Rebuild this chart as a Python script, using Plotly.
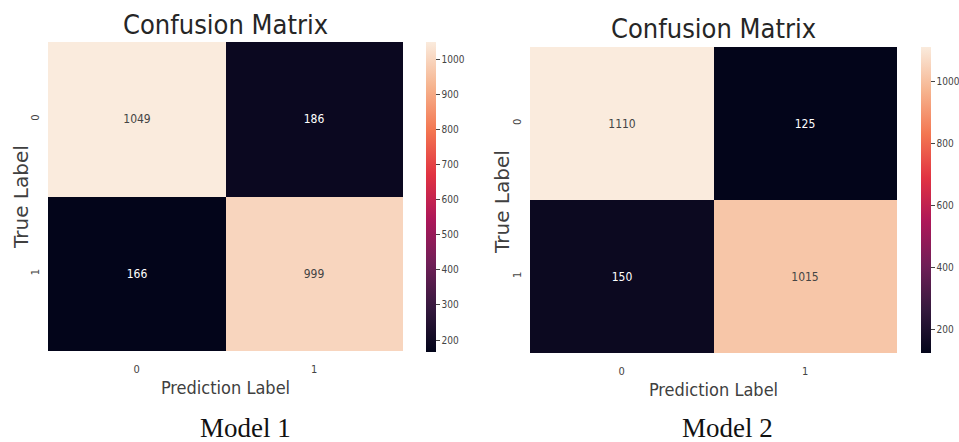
import plotly.graph_objects as go

# ---- data ----
pred_labels = ["0", "1"]
true_labels = ["0", "1"]
model1_cm = [[1049, 186], [166, 999]]
model2_cm = [[1110, 125], [150, 1015]]
model_names = ["Model 1", "Model 2"]
title_text = "Confusion Matrix"
x_title = "Prediction Label"
y_title = "True Label"
cb1_ticks = [200, 300, 400, 500, 600, 700, 800, 900, 1000]
cb2_ticks = [200, 400, 600, 800, 1000]

rocket = [
    [0 / 7, "#03051a"],
    [1 / 7, "#35193e"],
    [2 / 7, "#701f57"],
    [3 / 7, "#ad1759"],
    [4 / 7, "#e13342"],
    [5 / 7, "#f37651"],
    [6 / 7, "#f6b48f"],
    [7 / 7, "#faebdd"],
]

W, H = 959, 442
def px(x):
    return x / W
def py(y):
    return 1 - y / H

cond = "DejaVu Sans Condensed, DejaVu Sans, sans-serif"
tickfont = dict(family=cond, size=11, color="#444444")

def cmin(m):
    return min(min(r) for r in m)
def cmax(m):
    return max(max(r) for r in m)

def cbar(x0, y0, y1, ticks):
    return dict(x=px(x0), xanchor="left", y=py((y0 + y1) / 2), yanchor="middle",
                len=(y1 - y0) / H, lenmode="fraction", thickness=10, outlinewidth=0,
                xpad=0, ypad=0, tickvals=ticks, ticks="outside", ticklen=4,
                tickcolor="#444", tickfont=dict(family=cond, size=10, color="#444444"))

fig = go.Figure()
fig.add_trace(go.Heatmap(
    z=model1_cm, x=pred_labels, y=true_labels, colorscale=rocket,
    zmin=cmin(model1_cm), zmax=cmax(model1_cm),
    texttemplate="%{z}", textfont=dict(family=cond, size=12),
    xaxis="x", yaxis="y", hoverinfo="z",
    colorbar=cbar(426, 42, 352, cb1_ticks),
))
fig.add_trace(go.Heatmap(
    z=model2_cm, x=pred_labels, y=true_labels, colorscale=rocket,
    zmin=cmin(model2_cm), zmax=cmax(model2_cm),
    texttemplate="%{z}", textfont=dict(family=cond, size=12),
    xaxis="x2", yaxis="y2", hoverinfo="z",
    colorbar=cbar(921, 47, 353, cb2_ticks),
))

def xax(dom, anchor):
    return dict(domain=dom, anchor=anchor, showgrid=False, zeroline=False,
                showline=False, ticks="", tickfont=tickfont, ticklabelstandoff=10,
                automargin=False,
                title=dict(text=x_title, standoff=6,
                           font=dict(family=cond, size=18, color="#404040")))

def yax(dom, anchor):
    return dict(domain=dom, anchor=anchor, showgrid=False, zeroline=False,
                showline=False, ticks="", tickfont=tickfont, tickangle=-90,
                autorange="reversed", ticklabelstandoff=6, automargin=False)

def ann(text, x, y, font, angle=0):
    return dict(text=text, x=px(x), y=py(y), xref="paper", yref="paper",
                xanchor="center", yanchor="middle", showarrow=False, font=font,
                textangle=angle)

ylab_font = dict(family="DejaVu Sans", size=20, color="#404040")
annotations = [
    ann(title_text, 225, 24, dict(family=cond, size=27, color="#262626")),
    ann(title_text, 713, 28, dict(family=cond, size=27, color="#262626")),
    ann(y_title, 21, 197, ylab_font, -90),
    ann(y_title, 502, 202, ylab_font, -90),
    ann(model_names[0], 245, 428, dict(family="Liberation Serif, serif", size=27, color="#111111")),
    ann(model_names[1], 727, 428, dict(family="Liberation Serif, serif", size=27, color="#111111")),
]

fig.update_layout(
    width=W, height=H, margin=dict(l=0, r=0, t=0, b=0, autoexpand=False),
    paper_bgcolor="white", plot_bgcolor="white",
    xaxis=xax([px(48), px(403)], "y"),
    yaxis=yax([py(351), py(42)], "x"),
    xaxis2=xax([px(530), px(897)], "y2"),
    yaxis2=yax([py(353), py(47)], "x2"),
    annotations=annotations,
    showlegend=False,
)

fig.write_html("out.html", config={"displayModeBar": False},
               post_script="document.body.style.margin='0';document.body.style.overflow='hidden';")
